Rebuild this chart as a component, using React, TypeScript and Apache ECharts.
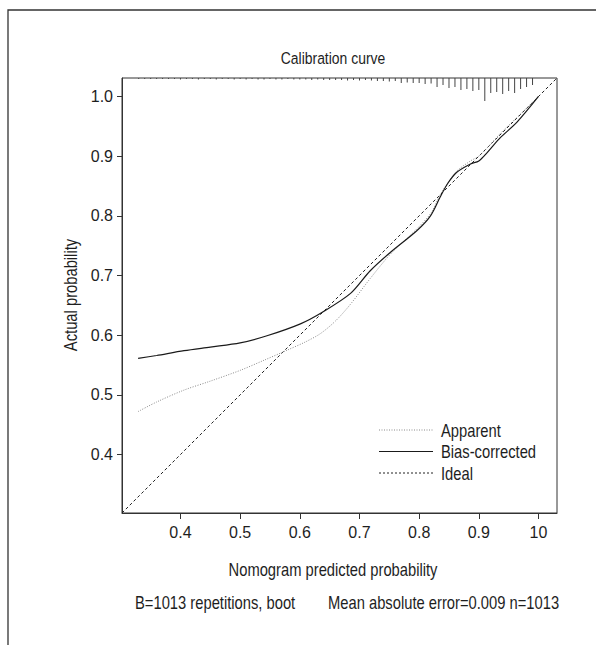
import React, { useEffect, useRef } from "react";
import * as echarts from "echarts";

const FONT = "'Liberation Sans', Arial, sans-serif";
const NARROW = 0.82;

const AXIS_MIN = 0.302;
const AXIS_MAX = 1.031;

const xTicks = [0.4, 0.5, 0.6, 0.7, 0.8, 0.9, 1.0];
const xTickLabels = ["0.4", "0.5", "0.6", "0.7", "0.8", "0.9", "10"];
const yTicks = [0.4, 0.5, 0.6, 0.7, 0.8, 0.9, 1.0];
const yTickLabels = ["0.4", "0.5", "0.6", "0.7", "0.8", "0.9", "1.0"];

const apparentX = [0.329, 0.36, 0.406, 0.45, 0.5, 0.54, 0.579, 0.61, 0.635, 0.66, 0.685, 0.718, 0.752, 0.796, 0.82, 0.835, 0.85, 0.863, 0.886, 0.9, 0.915, 0.936, 0.964, 1.0];
const apparentY = [0.472, 0.488, 0.508, 0.523, 0.541, 0.558, 0.575, 0.589, 0.603, 0.624, 0.652, 0.695, 0.736, 0.778, 0.805, 0.835, 0.858, 0.875, 0.892, 0.9, 0.915, 0.938, 0.965, 1.0];

const biasX = [0.329, 0.36, 0.406, 0.45, 0.5, 0.545, 0.601, 0.637, 0.685, 0.718, 0.752, 0.796, 0.819, 0.835, 0.847, 0.863, 0.886, 0.9, 0.914, 0.936, 0.964, 1.0];
const biasY = [0.561, 0.566, 0.574, 0.58, 0.587, 0.599, 0.619, 0.638, 0.67, 0.708, 0.739, 0.775, 0.8, 0.831, 0.853, 0.873, 0.887, 0.892, 0.906, 0.931, 0.957, 1.0];

const idealX = [AXIS_MIN, AXIS_MAX];

const rugX = [
  0.33, 0.34, 0.35, 0.36, 0.37, 0.38, 0.39, 0.4, 0.41, 0.42, 0.43, 0.44, 0.45, 0.46, 0.47, 0.48,
  0.49, 0.5, 0.51, 0.52, 0.53, 0.54, 0.55, 0.56, 0.57, 0.58, 0.59, 0.6, 0.61, 0.62, 0.63, 0.64,
  0.65, 0.66, 0.67, 0.68, 0.69, 0.7, 0.71, 0.72, 0.73, 0.74, 0.75, 0.76, 0.77, 0.78, 0.79, 0.8,
  0.81, 0.82, 0.83, 0.84, 0.85, 0.86, 0.87, 0.88, 0.89, 0.9, 0.91, 0.92, 0.93, 0.94, 0.95, 0.96,
  0.97, 0.98, 0.99,
];
const rugFreq = [
  1, 1, 1, 1, 1, 1, 1, 1.5, 1, 1, 1.5, 1, 1, 1.5, 1, 1,
  1.5, 1, 1.5, 1, 1.5, 1.5, 1, 1.5, 1.5, 1, 1.5, 1.5, 1.5, 2, 1.5, 2,
  2, 2, 2, 2.5, 2, 2.5, 2, 2.5, 3, 3, 3.5, 3, 5, 4.5, 5, 5,
  6, 5.5, 9, 7, 10, 9, 12, 11, 13, 12, 23, 15, 14, 16, 13, 15,
  11, 9, 7,
];

const legendNames = ["Apparent", "Bias-corrected", "Ideal"];

const zip = (a: number[], b: number[]) => a.map((v, i) => [v, b[i]]);

const styles: Record<string, { color: string; width: number; type: any }> = {
  Ideal: { color: "#222", width: 1, type: [3, 2.5] },
  Apparent: { color: "#8a8a8a", width: 1, type: [1, 1.5] },
  "Bias-corrected": { color: "#1a1a1a", width: 1.2, type: "solid" },
};

function narrowText(text: string, x: number, y: number, size: number, align: string, rotation = 0) {
  return {
    type: "text",
    x,
    y,
    scaleX: NARROW,
    scaleY: 1,
    rotation,
    silent: true,
    style: {
      text,
      align,
      verticalAlign: "middle",
      fontFamily: FONT,
      fontSize: size,
      fill: "#1e1e1e",
    },
  };
}

export default function App() {
  const ref = useRef<HTMLDivElement>(null);

  useEffect(() => {
    if (!ref.current) return;
    const chart = echarts.init(ref.current, undefined, { renderer: "svg" });

    const labelFmt = (ticks: number[], labels: string[]) => (v: number) => {
      const i = ticks.findIndex((t) => Math.abs(t - v) < 1e-6);
      return i >= 0 ? labels[i] : "";
    };

    const tickText = { fontFamily: FONT, fontSize: 16, color: "#1e1e1e" };

    const lineDash = (t: any) => (Array.isArray(t) ? t : null);

    const legendGraphics: any[] = [];
    legendNames.forEach((n, i) => {
      const yy = 430 + i * 21.5;
      const s = styles[n];
      legendGraphics.push({
        type: "line",
        silent: true,
        shape: { x1: 379, y1: yy, x2: 433, y2: yy },
        style: { stroke: s.color, lineWidth: s.width, lineDash: n === "Ideal" ? [2, 2] : lineDash(s.type) },
      });
      legendGraphics.push(narrowText(n, 441, yy, 18, "left"));
    });

    chart.setOption({
      animation: false,
      backgroundColor: "#fff",
      grid: {
        left: 122,
        top: 78,
        width: 435,
        height: 435,
        show: true,
        borderColor: "#333",
        borderWidth: 1,
        backgroundColor: "transparent",
      },
      xAxis: {
        type: "value",
        min: AXIS_MIN,
        max: AXIS_MAX,
        splitLine: { show: false },
        axisLine: { show: true, lineStyle: { color: "#333", width: 1 } },
        axisTick: { show: true, length: 6, customValues: xTicks, lineStyle: { color: "#333" } },
        axisLabel: {
          customValues: xTicks,
          formatter: labelFmt(xTicks, xTickLabels),
          margin: 11,
          ...tickText,
        },
      },
      yAxis: {
        type: "value",
        min: AXIS_MIN,
        max: AXIS_MAX,
        splitLine: { show: false },
        axisLine: { show: true, lineStyle: { color: "#333", width: 1 } },
        axisTick: { show: true, length: 5, customValues: yTicks, lineStyle: { color: "#333" } },
        axisLabel: {
          customValues: yTicks,
          formatter: labelFmt(yTicks, yTickLabels),
          margin: 9,
          ...tickText,
        },
      },
      series: [
        {
          name: "Ideal",
          type: "line",
          data: zip(idealX, idealX),
          symbol: "none",
          lineStyle: styles.Ideal,
          silent: true,
        },
        {
          name: "Apparent",
          type: "line",
          data: zip(apparentX, apparentY),
          symbol: "none",
          smooth: 0.3,
          lineStyle: styles.Apparent,
          silent: true,
        },
        {
          name: "Bias-corrected",
          type: "line",
          data: zip(biasX, biasY),
          symbol: "none",
          smooth: 0.3,
          lineStyle: styles["Bias-corrected"],
          silent: true,
        },
        {
          name: "rug",
          type: "custom",
          data: zip(rugX, rugFreq),
          silent: true,
          renderItem: (params: any, api: any) => {
            const p = api.coord([api.value(0), AXIS_MAX]);
            const len = api.value(1);
            return {
              type: "line",
              shape: { x1: p[0], y1: p[1], x2: p[0], y2: p[1] + len },
              style: { stroke: "#444", lineWidth: 1 },
            };
          },
        },
      ],
      graphic: [
        {
          type: "polyline",
          shape: { points: [[8, 645], [8, 10], [596, 10]] },
          style: { stroke: "#333", lineWidth: 1.3, fill: "none" },
          silent: true,
        },
        narrowText("Calibration curve", 333, 58, 17, "center"),
        narrowText("Nomogram predicted probability", 333, 569, 18, "center"),
        narrowText("Actual probability", 70, 295, 18, "center", Math.PI / 2),
        narrowText("B=1013 repetitions, boot", 135, 602, 18, "left"),
        narrowText("Mean absolute error=0.009 n=1013", 328, 602, 18, "left"),
        ...legendGraphics,
      ],
    });

    return () => chart.dispose();
  }, []);

  return (
    <div
      ref={ref}
      style={{ position: "fixed", left: 0, top: 0, width: 596, height: 645, background: "#fff" }}
    />
  );
}
